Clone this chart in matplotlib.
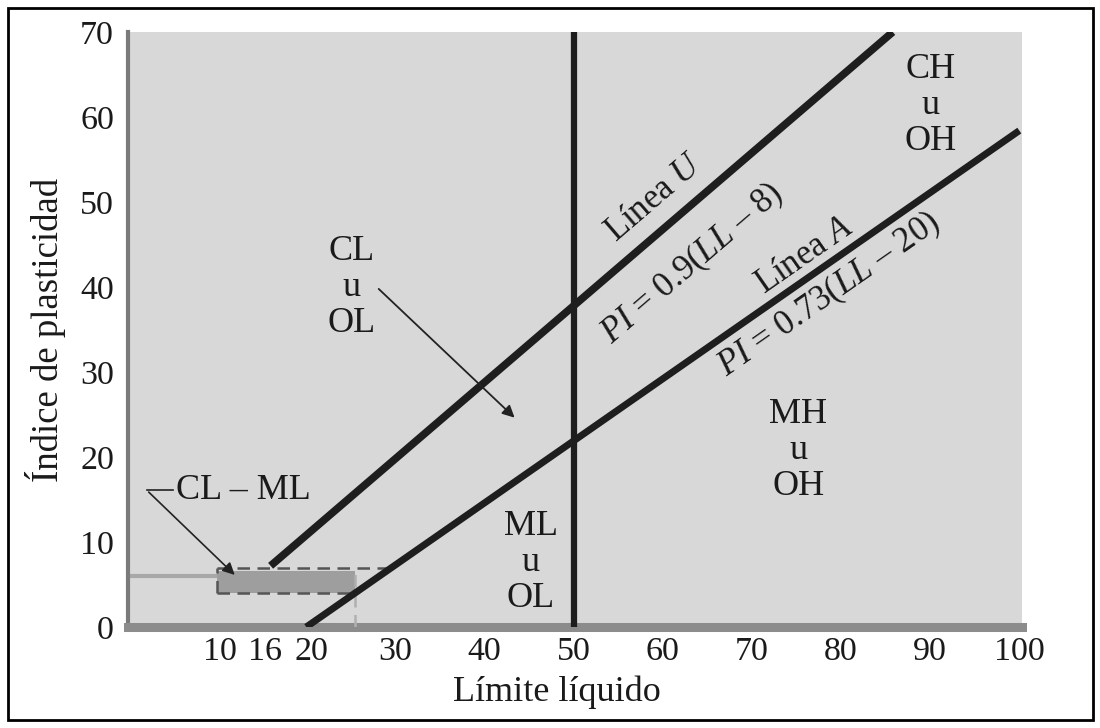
import numpy as np
import matplotlib
matplotlib.use("Agg")
import matplotlib.pyplot as plt
import matplotlib.transforms as mtransforms
from matplotlib.patches import Rectangle

plt.rcParams['font.family'] = ['Liberation Serif', 'DejaVu Serif']
plt.rcParams['mathtext.fontset'] = 'custom'
plt.rcParams['mathtext.rm'] = 'Liberation Serif'
plt.rcParams['mathtext.it'] = 'Liberation Serif:italic'

# lines of the plasticity chart (endpoints)
ll_u = [16, 85.8]
pi_u = [7.2, 70]
ll_a = [20, 100]
pi_a = [0, 58.4]
ll_50 = [50, 50]
pi_50 = [0, 70]

# CL-ML zone
clml_ll = [10, 25.5, 29.6]
clml_pi = [4, 7]

# zone labels: text, LL, PI
zones = [("CL\nu\nOL", 25.1, 40.0),
         ("CH\nu\nOH", 90.0, 61.4),
         ("MH\nu\nOH", 75.2, 20.8),
         ("ML\nu\nOL", 45.2, 7.6)]

xtick_labels = [10, 16, 20, 30, 40, 50, 60, 70, 80, 90, 100]
xtick_marks = [10, 20, 30, 40, 60, 70, 80, 90]
ytick_labels = [0, 10, 20, 30, 40, 50, 60, 70]
ytick_marks = [10, 20, 30, 40, 50, 60]

fig = plt.figure(figsize=(11, 7.28), dpi=100)
ax = fig.add_axes([128/1100, 101/728, 894/1100, 595/728])
ax.set_facecolor('#d8d8d8')
ax.set_xlim(0, 100.3)
ax.set_ylim(0, 70)

ink = '#1e1e1e'
ax.plot(ll_u, pi_u, color=ink, lw=5.5, solid_capstyle='butt', zorder=5)
ax.plot(ll_a, pi_a, color=ink, lw=5.0, solid_capstyle='butt', zorder=5)
ax.plot(ll_50, pi_50, color=ink, lw=4.5, solid_capstyle='butt', zorder=5)

# CL-ML shaded band
ax.fill_between([clml_ll[0], clml_ll[1]], clml_pi[0], clml_pi[1] - 0.4,
                color='#9e9e9e', zorder=2, lw=0)
ax.plot([0, clml_ll[0] + 3], [6, 6], color='#a8a8a8', lw=3, zorder=1)
dash = dict(color='#555555', lw=1.8, ls=(0, (5, 3)), zorder=3)
ax.plot([clml_ll[0], clml_ll[2]], [clml_pi[1], clml_pi[1]], **dash)
ax.plot([clml_ll[0], clml_ll[1]], [clml_pi[0], clml_pi[0]], **dash)
ax.plot([clml_ll[0], clml_ll[0]], [clml_pi[0], clml_pi[1]], **dash)
ax.plot([clml_ll[1], clml_ll[1]], [0, clml_pi[1] - 0.4], color='#b0b0b0', lw=1.8,
        ls=(0, (5, 3)), zorder=3)

for txt, x, y in zones:
    ax.text(x, y, txt, ha='center', va='center', fontsize=26,
            linespacing=1.12, color='#1a1a1a', zorder=6)

ang_u = np.degrees(np.arctan(0.9))
ang_a = np.degrees(np.arctan(0.73))
lab = dict(ha='center', va='center', fontsize=25, color='#1a1a1a',
           rotation_mode='anchor', transform_rotates_text=True, zorder=6)
ax.text(59.1, 50.5, "Línea $U$", rotation=ang_u, **lab)
ax.text(63.3, 42.7, "$PI$ = 0.9($LL$ – 8)", rotation=ang_u, **lab)
ax.text(75.9, 43.7, "Línea $A$", rotation=ang_a, **lab)
ax.text(78.7, 39.1, "$PI$ = 0.73($LL$ – 20)", rotation=ang_a, **lab)

# arrows
ax.annotate("", xy=(43.6, 24.4), xytext=(27.9, 40.0),
            arrowprops=dict(arrowstyle='-|>', color='#222222', lw=1.3,
                            mutation_scale=18), zorder=6)
ax.plot([2.1, 5.0], [16.1, 16.1], color='#222222', lw=1.2, zorder=6)
ax.annotate("", xy=(12.2, 5.9), xytext=(2.1, 16.1),
            arrowprops=dict(arrowstyle='-|>', color='#222222', lw=1.2,
                            mutation_scale=18), zorder=6)
ax.text(5.4, 16.1, "CL – ML", ha='left', va='center', fontsize=26,
        color='#1a1a1a', zorder=6)

# spines and ticks
for s in ['top', 'right']:
    ax.spines[s].set_visible(False)
ax.spines['bottom'].set_color('#8c8c8c')
ax.spines['bottom'].set_linewidth(6.5)
ax.spines['left'].set_color('#7a7a7a')
ax.spines['left'].set_linewidth(3)

ax.set_xticks(xtick_labels)
ax.set_xticklabels([str(v) for v in xtick_labels])
ax.set_xticks(xtick_marks, minor=True)
ax.set_yticks(ytick_labels)
ax.set_yticks(ytick_marks, minor=True)
ax.tick_params(axis='both', which='major', length=0, labelsize=24.5,
               colors='#1a1a1a')
ax.tick_params(axis='x', which='major', pad=7)
ax.tick_params(axis='y', which='major', pad=10)
ax.tick_params(axis='x', which='minor', direction='in', length=11,
               width=1.5, color='#333333')
ax.tick_params(axis='y', which='minor', direction='in', length=11,
               width=1.8, color='#333333')

# spread the crowded 10 / 16 / 20 labels a little
nudge = {10: 2, 16: -4, 20: 4}
for t in ax.get_xticklabels():
    v = int(t.get_text())
    if v in nudge:
        off = mtransforms.ScaledTranslation(nudge[v] / 72, 0, fig.dpi_scale_trans)
        t.set_transform(t.get_transform() + off)

ax.set_xlabel("Límite líquido", fontsize=26, color='#1a1a1a', x=0.48, labelpad=6)
ax.set_ylabel("Índice de plasticidad", fontsize=26.5, color='#1a1a1a', labelpad=10)

# frame round the whole figure
fig.patches.append(Rectangle((8/1100, 8/728), 1085/1100, 712/728,
                             transform=fig.transFigure, fill=False,
                             edgecolor='black', lw=2))

fig.savefig("out.png", dpi=100)
